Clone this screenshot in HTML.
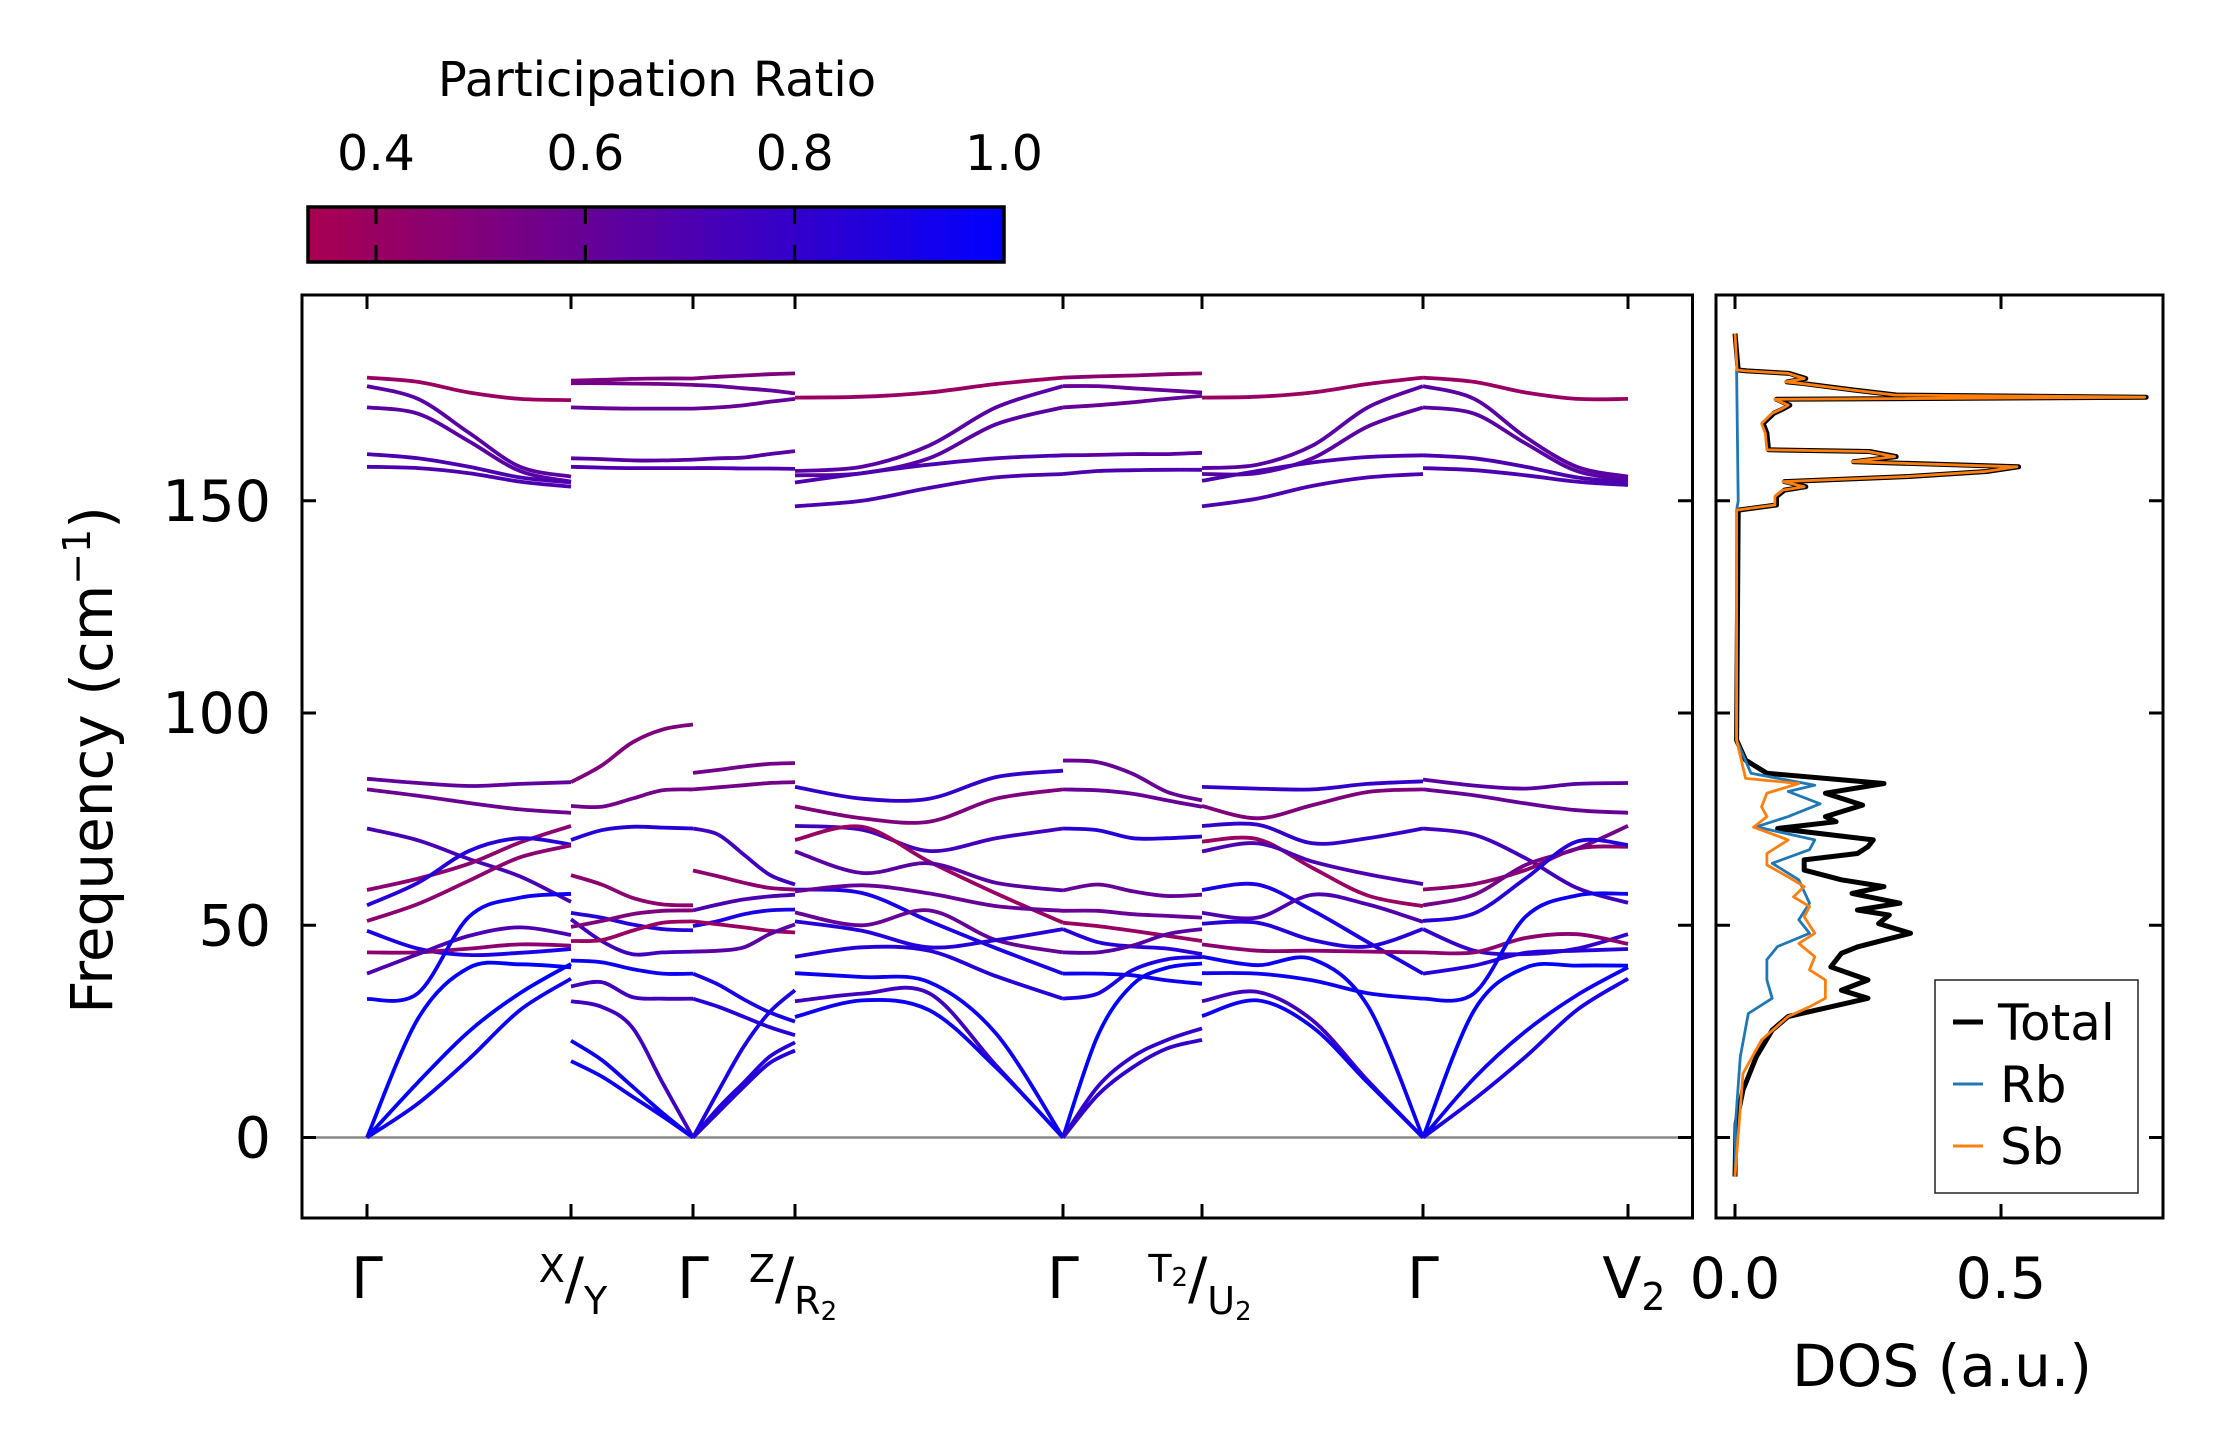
<!DOCTYPE html>
<html><head><meta charset="utf-8"><style>
html,body{margin:0;padding:0;background:#fff;}
svg{display:block;font-family:"DejaVu Sans","Liberation Sans",sans-serif;}
</style></head><body>
<svg id="fig" width="2222" height="1455" viewBox="0 0 2222 1455" xmlns="http://www.w3.org/2000/svg">
<defs>
<linearGradient id="cbgrad" x1="0" x2="1" y1="0" y2="0">
<stop offset="0" stop-color="rgb(170,0,80)"/><stop offset="1" stop-color="rgb(0,0,255)"/>
</linearGradient>
<clipPath id="mainclip"><rect x="302" y="295" width="1390" height="923"/></clipPath>
<clipPath id="dosclip"><rect x="1716" y="295" width="447" height="923"/></clipPath>
</defs>
<g>
<text x="657" y="96" font-size="48" text-anchor="middle">Participation Ratio</text>
<rect x="308" y="207" width="696" height="55" fill="url(#cbgrad)" stroke="#000" stroke-width="3.5"/>
<g id="cbticks"></g>
</g>
<g id="main">
<line x1="302" x2="1692" y1="1137.5" y2="1137.5" stroke="#888" stroke-width="2.5"/>
<g id="bands" clip-path="url(#mainclip)"></g>
<rect x="302" y="295" width="1390.5" height="923" fill="none" stroke="#000" stroke-width="3"/>
<g id="mainticks"></g>
<text transform="translate(112,760) rotate(-90)" font-size="58" text-anchor="middle">Frequency (cm<tspan baseline-shift="super" font-size="38">−1</tspan>)</text>
</g>
<g id="dos">
<g id="doslines" clip-path="url(#dosclip)"></g>
<rect x="1716" y="295" width="447" height="923" fill="none" stroke="#000" stroke-width="3"/>
<g id="dosticks"></g>
<text x="1942" y="1386" font-size="58" text-anchor="middle">DOS (a.u.)</text>
<g>
<rect x="1935" y="980" width="203" height="213" fill="#fff" stroke="#222" stroke-width="1.5"/>
<line x1="1953" x2="1983" y1="1022" y2="1022" stroke="#000" stroke-width="5"/>
<text x="1998" y="1040" font-size="50">Total</text>
<line x1="1953" x2="1983" y1="1084" y2="1084" stroke="#1f77b4" stroke-width="3"/>
<text x="2000" y="1102" font-size="50">Rb</text>
<line x1="1953" x2="1983" y1="1146" y2="1146" stroke="#ff7f0e" stroke-width="3"/>
<text x="2000" y="1164" font-size="50">Sb</text>
</g>
</g>
</svg>
<script>
// ---- axes ----
const yTicks = [0, 50, 100, 150];
const kTicks = [0, 2.04, 3.26, 4.28, 6.96, 8.35, 10.56, 12.61];
const cbTicks = [0.4, 0.6, 0.8, 1.0];
const cbTickLabels = ["0.4", "0.6", "0.8", "1.0"];
const dosTicks = [0.0, 0.5];
const dosTickLabels = ["0.0", "0.5"];
const segStart = [0, 1, 2, 3, 4, 5, 6];
const segEnd = [1, 2, 3, 4, 5, 6, 7];

// ---- band data ----
const seg1Freqs = [[84.5,83.5,82.8,83.3,83.7],[82,80.5,78.8,77.3,76.5],[72.8,70,65.6,61.5,55.5],[58.3,61,64.5,69.5,73.4],[54.7,60,67.5,70.5,69],[51,55,60.5,66,68.8],[48.7,44.5,43,43.5,44.4],[43.6,43.6,44.5,45.5,45.2],[38.6,43.2,47.5,49.5,47.7],[32.6,34,52,56.5,57.4],[0,28,40,40.8,40.1],[0,13,25,34,40.9],[0,8,18.5,30,37.4],
  [179,178,175.5,174,173.7],[177,174,166,158,155.7],[172,170.5,164,157,154.5],[161,160,158,155.5,154.3],[158,157.7,156.5,154.5,153.3]];
const seg1PR = [.62,.58,.72,.45,.85,.45,.9,.45,.7,.95,1,1,.95,.4,.65,.65,.7,.7];
const seg2Freqs = [[83.7,87.6,93,96.1,97.3],[78.1,77.9,79.8,81.8,82],[70.1,72.4,73.2,73,72.8],[61.8,59.6,56.5,54.9,54.7],[52.9,51.8,50.2,49.1,48.8],[51.4,46.3,43.2,43.6,43.8],[49.6,51,52.6,53.4,53.5],[46.3,46.5,48.7,50.6,50.9],[41.7,41.3,39.7,38.6,38.6],[35.6,36.6,33.1,32.7,32.7],[32.1,30.8,26,12.9,0],[22.8,18.3,12.1,5.8,0],[18,14.4,9.7,5,0],
  [178.3,178.5,178.7,178.8,178.8],[177.7,177.7,177.6,177.5,177.3],[172,171.8,171.7,171.7,171.7],[160,159.8,159.5,159.5,159.7],[158,157.8,157.7,157.7,157.7]];
const seg2PR = [.5,.55,.85,.45,.85,.75,.5,.4,.95,.75,.75,.95,.95,.5,.55,.6,.65,.7];
const seg3Freqs = [[85.9,86.6,87.4,88,88.2],[82,82.5,83,83.5,83.7],[72.8,71.3,66.6,61.9,59.6],[62.9,61.5,60,58.8,58.4],[53.5,54.9,56.1,56.8,57.2],[49.8,51,52.6,53.5,53.7],[50.9,50.2,49.5,48.7,48.3],[43.8,44,44.8,47.9,50.2],[38.6,36,32.5,29.5,27.3],[32.7,30.8,28.4,26,24.1],[0,11,21.5,29.5,34.7],[0,7,13,19,22.4],[0,6,12,17.5,20.5],
  [178.8,179.2,179.5,179.8,180],[177.3,177,176.5,176,175.3],[171.7,172,172.5,173.3,174],[159.7,160,160.2,161,161.7],[157.7,157.7,157.6,157.6,157.5]];
const seg3PR = [.55,.55,.75,.45,.7,.9,.4,.65,.9,.85,.9,.85,.85,.5,.6,.6,.65,.7];
const seg4Freqs = [[82.6,79.8,79.8,84.9,86.4],[78,75.2,74.4,79.8,82],[73.4,72.5,67.5,70.5,72.8],[70.1,73.2,65,57.5,50.6],[67.4,62.3,64.6,60,58.2],[58.4,57.6,51,44.6,38.6],[58,59.4,57.5,54.5,53.4],[53,50,53.5,46.5,43.6],[50.9,48.7,44.8,46.5,49.1],[42.6,44.8,44,38,32.7],[38.7,37.8,36.6,24.5,0],[32.1,33.9,34,17,0],[28.4,32.3,30,16.5,0],
  [174.3,174.5,175.5,177.5,179],[157,158,163,172,177],[156,156.5,160,168,172],[154.3,156.5,158.5,160,160.7],[148.7,150,153,155.5,156.3]];
const seg4PR = [.8,.5,.75,.4,.65,.9,.6,.6,.85,.85,.95,.75,.95,.4,.65,.65,.7,.7];
const seg5Freqs = [[88.8,88.4,85.7,81.4,79.4],[82,81.8,81,79.4,77.9],[72.8,72.4,70.5,70.5,70.9],[58.2,59.6,58,56.9,57.2],[53.4,53.4,52.6,52.2,51.8],[50.6,49.8,48.7,47.5,46.3],[49.1,46,45,44.5,43.2],[43.6,43.6,45.2,47.9,49.1],[38.6,38.6,38.2,37,36.2],[32.7,33.9,39.4,42,42.5],[0,24,36,40,41],[0,12,19,23,25.7],[0,10,16.5,21,23],
  [179,179.3,179.5,179.8,180],[177,177,176.5,176,175.5],[172,172.5,173.2,174,174.7],[160.7,160.8,161,161,161.3],[156.3,157,157.2,157.3,157.3]];
const seg5PR = [.6,.6,.85,.6,.6,.4,.85,.65,.95,.9,1,.8,.8,.45,.6,.6,.65,.7];
const seg6Freqs = [[82.6,82.2,82,83.3,83.9],[78.1,75.2,78.3,81.4,82],[73.4,73.7,69.3,70.5,72.8],[69.7,70.3,63.5,57,54.5],[67.4,69.3,65,62,59.7],[58.3,59.6,53.5,46,38.6],[52.9,51.8,57.2,54.9,50.8],[50.4,50.6,46.5,45,49.1],[45.5,44,44,43.8,43.6],[42.6,40.6,42,31,0],[38.7,38.6,37,34,32.7],[32.1,34.3,27.6,13.4,0],[28.6,32.3,26,12.9,0],
  [174.3,174.5,175.5,177.5,179],[157.7,158.5,163,172,177],[156.3,156.5,160,167.5,172],[154.7,157,159,160.3,160.7],[148.7,150.5,153.5,155.5,156.3]];
const seg6PR = [.8,.5,.8,.4,.7,.9,.7,.85,.45,.95,.95,.75,.95,.4,.65,.65,.7,.7];
const seg7Freqs = [[84.3,82.9,82.2,83.3,83.5],[82,80.6,78.7,77.1,76.5],[72.8,71.3,65.8,58.8,55.3],[58.4,59.7,63,68,68.5],[54.7,57.2,64.2,68,73.4],[51,52.8,61,69.7,68.9],[49.1,44,43.2,44.5,47.9],[43.6,43.6,47,47.9,45.6],[38.6,40.5,43.5,44,44.4],[32.7,34,52,57,57.4],[0,30,40,40.5,40.5],[0,14,25,33.5,40.1],[0,9,19,30,37.4],
  [179,178,175.5,174,174],[177,174,165,158,155.7],[172,170.5,163.5,157,155],[160.7,160,158,155.5,154.3],[157.7,157.2,156,154.5,153.7]];
const seg7PR = [.65,.6,.75,.45,.55,.85,.8,.45,.85,.95,1,.95,.9,.4,.65,.65,.7,.7];

// ---- DOS data ----
const sbFreq = [189.4,180.8,180.6,180,178.8,178,177.7,176.1,174.9,174.4,173.9,172.5,171.8,170.6,168.2,165.9,162,161.6,160.4,159.2,158,156.9,155.7,154.5,153.3,152.5,151,149,147.8,
  93.6,84.6,83.4,81.1,77.9,75.6,73.1,70.1,66.9,64.2,61.4,59.1,56.7,54.4,52,48.1,45.7,42.6,39.5,37.1,32.8,30.8,28.5,23,15.1,-9.2];
const sbDos = [0,0.004,0.02,0.1,0.13,0.095,0.12,0.22,0.3,0.77,0.075,0.1,0.09,0.07,0.05,0.057,0.06,0.25,0.3,0.22,0.53,0.47,0.32,0.09,0.13,0.09,0.075,0.075,0.003,
  .003,.02,.12,.06,.05,.06,.035,.1,.06,.06,.1,.13,.11,.14,.13,.15,.12,.15,.14,.17,.17,.14,.1,.05,.015,0];
const totFreq = [189.4,180.8,180.6,180,178.8,178,177.7,176.1,174.9,174.4,173.9,172.5,171.8,170.6,168.2,165.9,162,161.6,160.4,159.2,158,156.9,155.7,154.5,153.3,152.5,151,149,147.8,
  93.6,88.9,85.8,83.4,81.1,78.3,75.6,74.4,72.8,70.1,68.5,66.9,65.4,63,60.7,59.1,57.5,55.2,53.6,52.4,50.4,48.1,46.5,44.9,43.4,40.2,37.1,34.7,32.8,30.8,28.5,25.3,19,11.2,3.3,-9.2];
const totDos = [0,0.006,0.022,0.102,0.133,0.098,0.123,0.223,0.303,0.773,0.078,0.103,0.093,0.073,0.053,0.06,0.063,0.253,0.303,0.223,0.533,0.473,0.323,0.093,0.133,0.093,0.078,0.078,0.006,
  .003,.02,.06,.28,.17,.24,.17,.19,.08,.26,.25,.23,.13,.13,.2,.28,.22,.31,.23,.29,.27,.33,.28,.23,.2,.18,.25,.2,.25,.18,.1,.07,.04,.015,.002,0];
const rbFreq = [180.8,150,147.8,93.6,85.8,83,81.5,78.6,75.6,73.2,70.1,67.8,64.6,60.7,55.2,51.3,48.1,45,41.9,37.1,32.8,29.2,19,3.3,-9.2];
const rbDos = [.003,.006,.003,.003,.03,.15,.1,.16,.1,.04,.15,.14,.07,.12,.14,.12,.14,.08,.06,.06,.07,.025,.01,.001,0];

// ---- scales ----
const Y0 = 1137.5, YK = 4.245;
function yS(f){ return Y0 - f*YK; }
function xS(k){ return 367 + k*100; }
function dS(d){ return 1735 + d*532; }
function cbS(v){ return 376 + (v-0.4)/0.6*628; }
function prColor(p){
  const t = Math.max(0, Math.min(1, (p-0.333)/(1-0.333)));
  return 'rgb(' + Math.round(170*(1-t)) + ',0,' + Math.round(80 + 175*t) + ')';
}
const NS = 'http://www.w3.org/2000/svg';
function mk(tag, attrs, parent){
  const e = document.createElementNS(NS, tag);
  for (const k in attrs) e.setAttribute(k, attrs[k]);
  parent.appendChild(e);
  return e;
}
function smoothPath(pts){
  let d = 'M' + pts[0][0].toFixed(1) + ',' + pts[0][1].toFixed(1);
  for (let i = 0; i < pts.length-1; i++){
    const p0 = pts[Math.max(0,i-1)], p1 = pts[i], p2 = pts[i+1], p3 = pts[Math.min(pts.length-1,i+2)];
    const c1x = p1[0] + (p2[0]-p0[0])/6, c1y = p1[1] + (p2[1]-p0[1])/6;
    const c2x = p2[0] - (p3[0]-p1[0])/6, c2y = p2[1] - (p3[1]-p1[1])/6;
    d += 'C' + c1x.toFixed(1)+','+c1y.toFixed(1)+' '+c2x.toFixed(1)+','+c2y.toFixed(1)+' '+p2[0].toFixed(1)+','+p2[1].toFixed(1);
  }
  return d;
}

// ---- bands ----
const bandsG = document.getElementById('bands');
const allFreqs = [seg1Freqs, seg2Freqs, seg3Freqs, seg4Freqs, seg5Freqs, seg6Freqs, seg7Freqs];
const allPR = [seg1PR, seg2PR, seg3PR, seg4PR, seg5PR, seg6PR, seg7PR];
for (let s = 0; s < allFreqs.length; s++){
  const k0 = kTicks[segStart[s]], k1 = kTicks[segEnd[s]];
  allFreqs[s].forEach((vals, b) => {
    const pts = vals.map((f, i) => [xS(k0 + (k1-k0)*i/(vals.length-1)), yS(f)]);
    const p = mk('path', {d: smoothPath(pts), fill:'none', stroke: prColor(allPR[s][b]), 'stroke-width':3.8, 'stroke-linecap':'butt'}, bandsG);
    
    
  });
}

// ---- main ticks ----
const mt = document.getElementById('mainticks');
yTicks.forEach(v => {
  const y = yS(v);
  const l1 = mk('line', {x1:302, x2:316, y1:y, y2:y, stroke:'#000', 'stroke-width':3}, mt);
  
  
  const l2 = mk('line', {x1:1678, x2:1692, y1:y, y2:y, stroke:'#000', 'stroke-width':3}, mt);
  
  
  const l3 = mk('line', {x1:1716, x2:1730, y1:y, y2:y, stroke:'#000', 'stroke-width':3}, mt);
  
  
  const l4 = mk('line', {x1:2149, x2:2163, y1:y, y2:y, stroke:'#000', 'stroke-width':3}, mt);
  
  
  const t = mk('text', {x:271, y:y+20, 'font-size':57, 'text-anchor':'end'}, mt);
  t.textContent = String(v);
  
  
});
kTicks.forEach((k, i) => {
  const x = xS(k);
  const a = mk('line', {x1:x, x2:x, y1:295, y2:309, stroke:'#000', 'stroke-width':3}, mt);
  
  
  const b = mk('line', {x1:x, x2:x, y1:1204, y2:1218, stroke:'#000', 'stroke-width':3}, mt);
  
  
});
const lbl = document.getElementById('mainticks');
function kLabel(html, x, name){
  const t = mk('text', {x:x, y:1298, 'font-size':57, 'text-anchor':'middle'}, lbl);
  t.innerHTML = html;
  
  
}
kLabel('Γ', xS(kTicks[0]), 'k-label-gamma-1');
kLabel('<tspan font-size="38" dy="-16">X</tspan><tspan dy="16">/</tspan><tspan font-size="38" dy="16">Y</tspan>', xS(kTicks[1])+2, 'k-label-x-y');
kLabel('Γ', xS(kTicks[2]), 'k-label-gamma-2');
kLabel('<tspan font-size="38" dy="-16">Z</tspan><tspan dy="16">/</tspan><tspan font-size="38" dy="16">R</tspan><tspan font-size="26" dy="6">2</tspan>', xS(kTicks[3])-2, 'k-label-z-r2');
kLabel('Γ', xS(kTicks[4]), 'k-label-gamma-3');
kLabel('<tspan font-size="38" dy="-16">T</tspan><tspan font-size="26" dy="4">2</tspan><tspan dy="12">/</tspan><tspan font-size="38" dy="16">U</tspan><tspan font-size="26" dy="6">2</tspan>', xS(kTicks[5])-2, 'k-label-t2-u2');
kLabel('Γ', xS(kTicks[6]), 'k-label-gamma-4');
kLabel('V<tspan font-size="38" dy="12">2</tspan>', xS(kTicks[7])+6, 'k-label-v2');

// ---- colorbar ticks ----
const cbg = document.getElementById('cbticks');
cbTicks.forEach((v, i) => {
  const x = cbS(v);
  if (v < 1.0){
    const a = mk('line', {x1:x, x2:x, y1:207, y2:224, stroke:'#000', 'stroke-width':3}, cbg);
    
    
    const b = mk('line', {x1:x, x2:x, y1:245, y2:262, stroke:'#000', 'stroke-width':3}, cbg);
    
    
  }
  const t = mk('text', {x:x, y:170, 'font-size':49, 'text-anchor':'middle'}, cbg);
  t.textContent = cbTickLabels[i];
  
  
});

// ---- DOS ----
const dg = document.getElementById('doslines');
function dosLine(freqs, vals, color, w, name){
  const pts = freqs.map((f, i) => dS(vals[i]).toFixed(1) + ',' + yS(f).toFixed(1)).join(' ');
  const p = mk('polyline', {points: pts, fill:'none', stroke: color, 'stroke-width': w, 'stroke-linejoin':'round'}, dg);
  
  
}
dosLine(totFreq, totDos, '#000', 5, 'dos-total-line');
dosLine(rbFreq, rbDos, '#1f77b4', 2.8, 'dos-rb-line');
dosLine(sbFreq, sbDos, '#ff7f0e', 2.8, 'dos-sb-line');
const dt = document.getElementById('dosticks');
dosTicks.forEach((v, i) => {
  const x = dS(v);
  const a = mk('line', {x1:x, x2:x, y1:295, y2:309, stroke:'#000', 'stroke-width':3}, dt);
  
  
  const b = mk('line', {x1:x, x2:x, y1:1204, y2:1218, stroke:'#000', 'stroke-width':3}, dt);
  
  
  const t = mk('text', {x:x, y:1298, 'font-size':57, 'text-anchor':'middle'}, dt);
  t.textContent = dosTickLabels[i];
  
  
});
</script>
</body></html>
